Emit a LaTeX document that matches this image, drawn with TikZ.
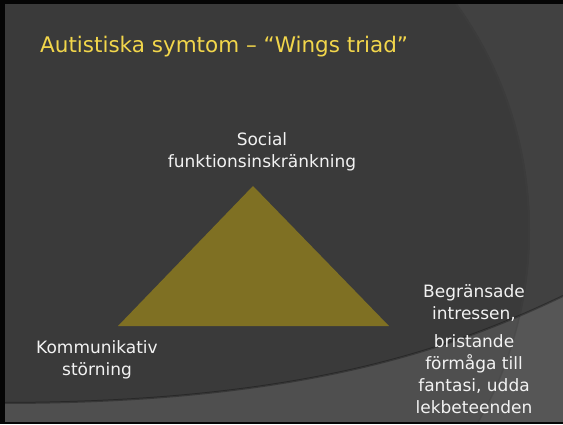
\documentclass[tikz,border=0pt]{standalone}
\usepackage{fontspec}
\setmainfont{DejaVu Sans}
\begin{document}
\begin{tikzpicture}[x=1pt,y=-1pt,
  lbl/.style={text=labelwhite,font=\fontsize{17}{22}\selectfont,align=center,inner sep=0pt}]
\definecolor{frame}{HTML}{050505}
\definecolor{bgin}{HTML}{3A3A3A}
\definecolor{bgout}{HTML}{414141}
\definecolor{band}{HTML}{4F4F4F}
\definecolor{bandout}{HTML}{565656}
\definecolor{tri}{HTML}{7F7023}
\definecolor{titleyellow}{HTML}{F2D64B}
\definecolor{labelwhite}{HTML}{F2F2F2}
\useasboundingbox (0,0) rectangle (563,424);
\fill[frame] (0,0) rectangle (563,424);
\begin{scope}
  \clip (5,4) rectangle (563,421);
  \fill[bgout] (5,4) rectangle (563,421);
  \fill[bgin] (143,230) circle[radius=387];
  \draw[black!75,opacity=0.35,line width=2pt] (143,230) circle[radius=386];
  \begin{scope}
    \clip (0,403) .. controls (300,403) and (450,350) .. (563,296) -- (563,424) -- (0,424) -- cycle;
    \fill[bandout] (0,0) rectangle (563,424);
    \fill[band] (143,230) circle[radius=387];
    \draw[black!75,opacity=0.25,line width=1pt] (143,230) circle[radius=386];
  \end{scope}
  \draw[black,opacity=0.3,line width=2pt] (0,403) .. controls (300,403) and (450,350) .. (563,296);
\end{scope}
\node[anchor=base west,inner sep=0pt,text=titleyellow,font=\fontsize{21.5}{25}\selectfont] (title) at (40,52) {Autistiska symtom – “Wings triad”};
\coordinate (apex) at (253,186);
\coordinate (bl) at (118,326);
\coordinate (br) at (389,326);
\fill[tri] (apex) -- (br) -- (bl) -- cycle;
\node[lbl,anchor=base] (social) at (262,167) {Social\\funktionsinskränkning};
\node[lbl,anchor=base] (komm) at (97,375) {Kommunikativ\\störning};
\node[lbl,anchor=base] (begr1) at (474,319) {Begränsade\\intressen,};
\node[lbl,anchor=base] (begr2) at (474,413) {bristande\\förmåga till\\fantasi, udda\\lekbeteenden};
\end{tikzpicture}
\end{document}
